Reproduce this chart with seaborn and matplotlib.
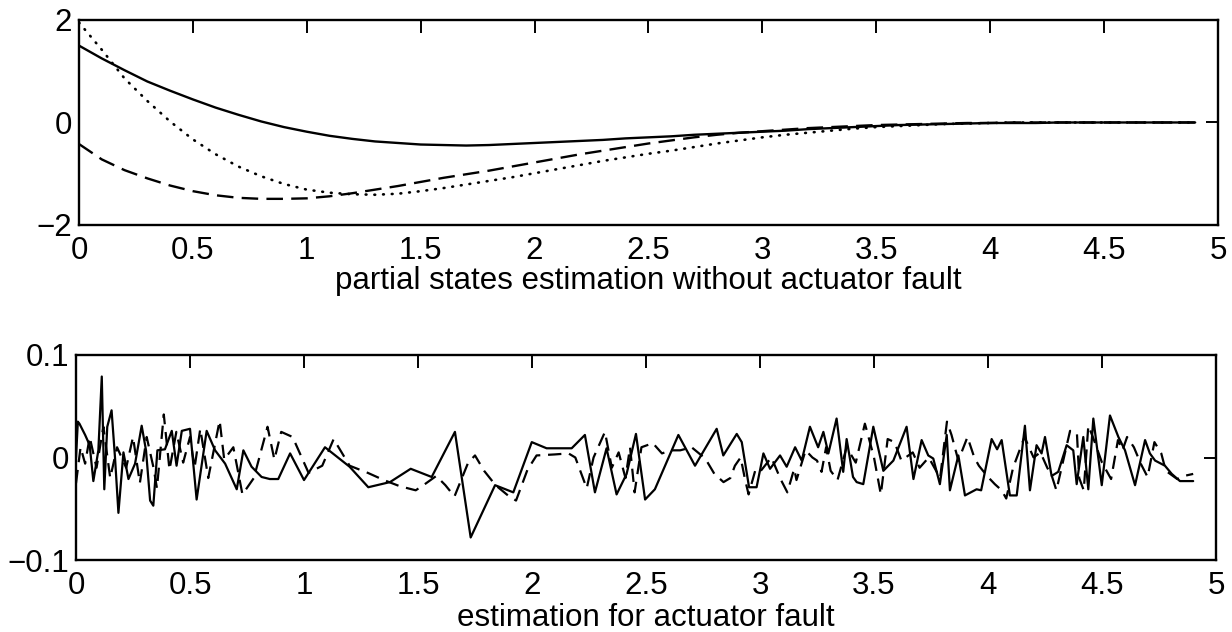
import matplotlib
matplotlib.use("Agg")
import matplotlib.pyplot as plt
import seaborn as sns
import pandas as pd

# ---------------- top panel: partial states ----------------
t_top = [round(0.1 * i, 1) for i in range(50)]
x1_est = [1.50, 1.25, 1.02, 0.80, 0.62, 0.45, 0.29, 0.15, 0.02, -0.09,
          -0.18, -0.26, -0.32, -0.37, -0.40, -0.43, -0.44, -0.45, -0.44, -0.42,
          -0.40, -0.38, -0.36, -0.34, -0.31, -0.29, -0.27, -0.24, -0.22, -0.20,
          -0.18, -0.16, -0.13, -0.11, -0.09, -0.07, -0.05, -0.04, -0.03, -0.02,
          -0.01, -0.01, -0.01, 0.0, 0.0, 0.0, 0.0, 0.0, 0.0, 0.0]
x2_est = [-0.42, -0.72, -0.93, -1.09, -1.23, -1.34, -1.42, -1.47, -1.49, -1.49,
          -1.48, -1.44, -1.38, -1.31, -1.24, -1.16, -1.08, -1.01, -0.94, -0.86,
          -0.78, -0.70, -0.62, -0.55, -0.48, -0.41, -0.35, -0.29, -0.24, -0.20,
          -0.17, -0.14, -0.11, -0.09, -0.07, -0.05, -0.04, -0.03, -0.02, -0.01,
          -0.01, 0.0, 0.0, 0.0, 0.0, 0.0, 0.0, 0.0, 0.0, 0.0]
x3_est = [1.95, 1.42, 0.86, 0.42, 0.02, -0.33, -0.62, -0.86, -1.05, -1.20,
          -1.31, -1.37, -1.40, -1.41, -1.39, -1.34, -1.28, -1.21, -1.14, -1.07,
          -0.99, -0.91, -0.83, -0.75, -0.68, -0.61, -0.55, -0.48, -0.41, -0.35,
          -0.29, -0.24, -0.20, -0.16, -0.12, -0.09, -0.07, -0.05, -0.03, -0.02,
          -0.01, 0.0, 0.0, 0.0, 0.0, 0.0, 0.0, 0.0, 0.0, 0.0]

# ---------------- bottom panel: actuator fault estimation ----------------
fault_a_t = [0.0, 0.008, 0.015, 0.04, 0.06, 0.076, 0.098, 0.113, 0.124, 0.137, 0.156, 0.171,
             0.186, 0.208, 0.23, 0.259, 0.288, 0.307, 0.325, 0.339, 0.357, 0.39, 0.42,
             0.441, 0.464, 0.5, 0.529, 0.573, 0.61, 0.654, 0.705, 0.734, 0.77, 0.814,
             0.85, 0.887, 0.939, 1.0, 1.092, 1.2, 1.282, 1.377, 1.468, 1.56, 1.662,
             1.731, 1.838, 1.918, 1.999, 2.064, 2.174, 2.232, 2.276, 2.327, 2.371,
             2.415, 2.456, 2.496, 2.539, 2.642, 2.715, 2.81, 2.839, 2.898, 2.92,
             2.952, 2.985, 3.015, 3.044, 3.088, 3.117, 3.154, 3.183, 3.219, 3.255,
             3.278, 3.3, 3.336, 3.365, 3.38, 3.408, 3.424, 3.453, 3.497, 3.541,
             3.585, 3.643, 3.673, 3.709, 3.738, 3.76, 3.789, 3.819, 3.833, 3.87,
             3.899, 3.95, 3.97, 4.016, 4.04, 4.06, 4.096, 4.126, 4.162, 4.184,
             4.213, 4.235, 4.25, 4.279, 4.308, 4.345, 4.374, 4.389, 4.418, 4.44,
             4.462, 4.499, 4.535, 4.572, 4.601, 4.645, 4.689, 4.71, 4.733, 4.776,
             4.806, 4.842, 4.9]
fault_a_v = [0.0, 0.035, 0.033, 0.022, 0.012, -0.023, 0.007, 0.079, -0.031, 0.03, 0.046, 0.0,
             -0.054, 0.005, -0.021, -0.006, 0.031, 0.007, -0.042, -0.047, 0.007, 0.008, 0.026,
             -0.008, 0.026, 0.028, -0.041, 0.026, 0.007, -0.006, -0.031, 0.007, -0.009, -0.019,
             -0.021, -0.021, 0.004, -0.022, 0.01, -0.009, -0.029, -0.024, -0.011, -0.019, 0.025,
             -0.078, -0.027, -0.034, 0.015, 0.009, 0.009, 0.022, -0.034, 0.009, -0.036,
             -0.016, 0.023, -0.041, -0.031, 0.022, -0.008, 0.028, 0.002, 0.023, 0.015,
             -0.029, -0.029, 0.004, -0.011, 0.002, -0.009, 0.01, -0.003, 0.03, 0.01,
             0.025, 0.004, 0.038, -0.014, 0.018, -0.019, -0.024, -0.026, 0.03, -0.013,
             -0.003, 0.03, -0.021, 0.017, 0.002, -0.001, -0.026, 0.022, -0.032, 0.002,
             -0.037, -0.031, -0.032, 0.018, 0.008, 0.017, -0.037, -0.037, 0.031, -0.032,
             0.012, 0.004, 0.02, -0.018, -0.014, 0.012, 0.007, -0.026, 0.02, -0.031,
             0.038, -0.027, 0.041, 0.02, 0.007, -0.027, 0.017, 0.004, -0.003, -0.008,
             -0.016, -0.023, -0.023]

fault_b_t = [0.0, 0.02, 0.04, 0.06, 0.09, 0.12, 0.15, 0.18, 0.22, 0.25, 0.28, 0.31, 0.34,
             0.355, 0.385, 0.41, 0.44, 0.47, 0.5, 0.52, 0.545, 0.58, 0.63, 0.65, 0.69,
             0.73, 0.78, 0.84, 0.87, 0.9, 0.95, 1.02, 1.08, 1.13, 1.2, 1.28, 1.35, 1.42,
             1.49, 1.53, 1.58, 1.62, 1.66, 1.72, 1.75, 1.79, 1.84, 1.9, 1.93, 1.98, 2.02,
             2.1, 2.16, 2.19, 2.24, 2.27, 2.32, 2.35, 2.38, 2.41, 2.43, 2.45, 2.48, 2.53,
             2.57, 2.61, 2.65, 2.7, 2.76, 2.8, 2.84, 2.87, 2.89, 2.915, 2.935, 2.95, 2.98,
             3.0, 3.05, 3.09, 3.12, 3.15, 3.16, 3.2, 3.23, 3.25, 3.27, 3.29, 3.31, 3.34,
             3.38, 3.42, 3.46, 3.47, 3.5, 3.52, 3.53, 3.56, 3.59, 3.62, 3.67, 3.7, 3.74,
             3.79, 3.82, 3.84, 3.87, 3.91, 3.94, 3.96, 4.0, 4.03, 4.06, 4.08, 4.11, 4.16,
             4.2, 4.23, 4.26, 4.28, 4.3, 4.36, 4.39, 4.4, 4.42, 4.44, 4.46, 4.5, 4.52,
             4.54, 4.57, 4.59, 4.61, 4.64, 4.67, 4.7, 4.73, 4.76, 4.78, 4.83, 4.86, 4.9]
fault_b_v = [-0.025, 0.01, -0.006, 0.02, -0.01, 0.03, -0.02, 0.01, -0.01, 0.02, -0.025, 0.02,
             -0.01, -0.03, 0.042, -0.012, 0.025, -0.005, 0.02, -0.01, 0.028, -0.02, 0.036,
             -0.002, 0.01, -0.036, -0.02, 0.03, -0.002, 0.025, 0.02, -0.015, -0.008, 0.018,
             -0.008, -0.015, -0.022, -0.028, -0.032, -0.026, -0.018, -0.027, -0.038, -0.005,
             0.002, -0.013, -0.027, -0.038, -0.042, -0.012, 0.002, 0.003, 0.004, 0.0, -0.03,
             0.0, 0.025, -0.01, 0.005, -0.02, 0.01, -0.034, 0.01, 0.014, 0.004, 0.007,
             0.007, 0.01, -0.001, -0.016, -0.024, -0.02, -0.008, 0.0, -0.022, -0.036,
             -0.012, -0.014, 0.0, -0.021, -0.034, -0.011, -0.022, 0.007, 0.0, -0.003,
             -0.014, 0.01, -0.013, -0.022, 0.01, -0.005, 0.033, 0.025, 0.0, -0.024, -0.036,
             0.018, 0.015, -0.003, 0.005, -0.01, 0.0, -0.02, 0.035, 0.022, -0.003, 0.02,
             0.0, -0.008, -0.019, -0.026, -0.032, -0.04, -0.01, 0.02, 0.0, 0.005, -0.01,
             -0.018, -0.032, 0.026, 0.024, -0.02, -0.032, 0.031, 0.02, -0.005, -0.013,
             -0.021, 0.017, 0.007, 0.02, 0.01, -0.006, -0.019, 0.015, 0.004, -0.013, -0.021,
             -0.018, -0.016]

x_ticks = [0, 0.5, 1, 1.5, 2, 2.5, 3, 3.5, 4, 4.5, 5]
x_ticklabels = ["0", "0.5", "1", "1.5", "2", "2.5", "3", "3.5", "4", "4.5", "5"]
top_yticks = [-2, 0, 2]
top_yticklabels = ["\u22122", "0", "2"]
bot_yticks = [-0.1, 0, 0.1]
bot_yticklabels = ["\u22120.1", "0", "0.1"]
top_xlabel = "partial states estimation without actuator fault"
bot_xlabel = "estimation for actuator fault"

sns.set_style("white")
plt.rcParams["font.family"] = ["Liberation Sans", "DejaVu Sans"]

fig = plt.figure(figsize=(12.32, 6.32), dpi=100)
ax1 = fig.add_axes([0.0641, 0.644, 0.9245, 0.3244])
ax2 = fig.add_axes([0.0617, 0.1139, 0.9253, 0.3244])

top_df = pd.DataFrame({"t": t_top, "x1": x1_est, "x2": x2_est, "x3": x3_est})
sns.lineplot(data=top_df, x="t", y="x1", ax=ax1, color="black", lw=1.7,
             estimator=None, sort=False)
sns.lineplot(data=top_df, x="t", y="x2", ax=ax1, color="black", lw=1.7,
             estimator=None, sort=False, linestyle=(0, (7, 3.5)))
sns.lineplot(data=top_df, x="t", y="x3", ax=ax1, color="black", lw=1.9,
             estimator=None, sort=False, linestyle=(0, (0.3, 3.0)),
             dash_capstyle="round")

fa = pd.DataFrame({"t": fault_a_t, "v": fault_a_v})
fb = pd.DataFrame({"t": fault_b_t, "v": fault_b_v})
sns.lineplot(data=fa, x="t", y="v", ax=ax2, color="black", lw=1.6,
             estimator=None, sort=False)
sns.lineplot(data=fb, x="t", y="v", ax=ax2, color="black", lw=1.6,
             estimator=None, sort=False, linestyle=(0, (6, 3.5)))

for ax, yt, ytl, yl, xl, lp in [(ax1, top_yticks, top_yticklabels, (-2, 2), top_xlabel, 0),
                                (ax2, bot_yticks, bot_yticklabels, (-0.1, 0.1), bot_xlabel, 1)]:
    ax.set_xlim(0, 5)
    ax.set_ylim(*yl)
    ax.set_xticks(x_ticks)
    ax.set_xticklabels(x_ticklabels)
    ax.set_yticks(yt)
    ax.set_yticklabels(ytl)
    ax.set_ylabel("")
    ax.set_xlabel(xl, fontsize=22.5, labelpad=lp, color="black")
    for s in ax.spines.values():
        s.set_visible(True)
        s.set_color("black")
        s.set_linewidth(1.7)
    ax.tick_params(axis="both", which="major", direction="in", length=9, width=1.4,
                   top=True, right=True, labelsize=22.5, colors="black", pad=5)
    ax.tick_params(axis="x", pad=8)
    ax.grid(False)

fig.savefig("out.png", dpi=100, facecolor="white")
